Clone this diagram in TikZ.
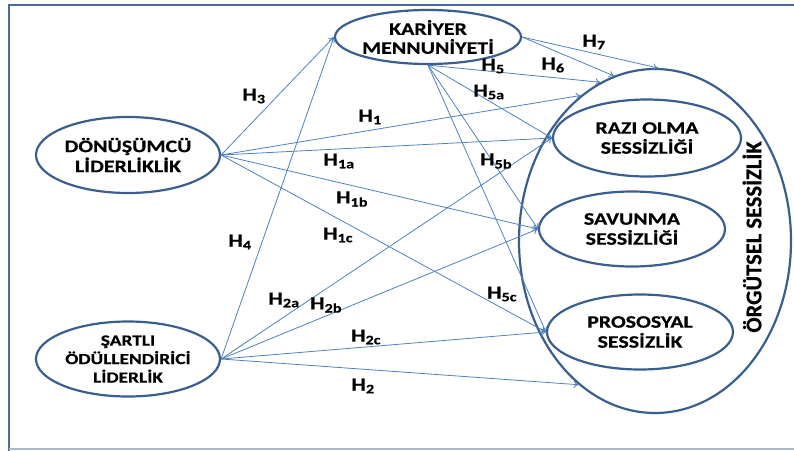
\documentclass[tikz,border=0pt]{standalone}
\usepackage{fontspec}
\setmainfont{Carlito}[FakeStretch=1.25,BoldFeatures={FakeBold=0.5}]
\newfontfamily\vfont{Carlito}[BoldFeatures={FakeBold=0.5}]
\usetikzlibrary{shapes.geometric,arrows.meta}
\definecolor{ellcol}{HTML}{3A5F8E}
\definecolor{arrcol}{HTML}{4F81BD}
\definecolor{framecol}{HTML}{4A6C9B}
\definecolor{framelight}{HTML}{A7B8CE}
\newcommand\hyp[1]{H\textsubscript{#1}}
\begin{document}
\begin{tikzpicture}[x=1pt,y=-1pt,
  ell/.style={ellipse,draw=ellcol,line width=2.2pt,inner sep=-10pt,align=center,
    font=\fontsize{17.5}{20}\selectfont\bfseries},
  arr/.style={draw=arrcol,line width=0.8pt,-{To[length=5pt,width=7pt]}},
  hl/.style={font=\fontsize{18.5}{20}\selectfont\bfseries,inner sep=0pt}]
\useasboundingbox (0,0) rectangle (794,450);
% frame
\draw[framecol,line width=2pt] (9,452) -- (9,5) -- (797,5);
\draw[framelight,line width=1.5pt] (9,449) -- (797,449);
% nodes
\node[ell,minimum width=272pt,minimum height=344pt] (os) at (655,241) {};
\node[ell,minimum width=184pt,minimum height=76pt] (dl) at (128,155) {DÖNÜŞÜMCÜ\\LİDERLİKLİK};
\node[ell,minimum width=184pt,minimum height=75pt,font=\fontsize{15.5}{18.5}\selectfont\bfseries] (sl) at (128,359) {ŞARTLI\\ÖDÜLLENDİRİCİ\\LİDERLİK};
\node[ell,minimum width=186pt,minimum height=54pt,font=\fontsize{17.5}{19}\selectfont\bfseries] (km) at (428,37) {KARİYER\\MENNUNİYETİ};
\node[ell,minimum width=188pt,minimum height=77pt] (ro) at (647,138) {RAZI OLMA\\SESSİZLİĞİ};
\node[ell,minimum width=186pt,minimum height=75pt] (sv) at (632,229) {SAVUNMA\\SESSİZLİĞİ};
\node[ell,minimum width=186pt,minimum height=75pt] (ps) at (640,332) {PROSOSYAL\\SESSİZLİK};
\node[rotate=90,inner sep=0pt,font=\vfont\fontsize{22.5}{24}\selectfont\bfseries] (ot) at (752,237) {ÖRGÜTSEL SESSİZLİK};
% connectors
\draw[arr] (dl.east) -- (km.west);
\draw[arr] (dl.east) -- (os.117.5);
\draw[arr] (dl.east) -- (ro.west);
\draw[arr] (dl.east) -- (sv.west);
\draw[arr] (dl.east) -- (ps.west);
\draw[arr] (sl.east) -- (km.west);
\draw[arr] (sl.east) -- (ro.west);
\draw[arr] (sl.east) -- (sv.west);
\draw[arr] (sl.east) -- (ps.west);
\draw[arr] (sl.east) -- (os.242.8);
\draw[arr] (km.east) -- (os.89);
\draw[arr] (km.east) -- (os.104.5);
\draw[arr] (km.south) -- (os.109.3);
\draw[arr] (km.south) -- (ro.west);
\draw[arr] (km.south) -- (sv.west);
\draw[arr] (km.south) -- (ps.west);
% labels
\node[hl] (l3) at (254,96) {\hyp{3}};
\node[hl] (l1) at (370,117) {\hyp{1}};
\node[hl] (l1a) at (339,161) {\hyp{1a}};
\node[hl] (l1b) at (352,199) {\hyp{1b}};
\node[hl] (l1c) at (338,235) {\hyp{1c}};
\node[hl] (l4) at (240,242) {\hyp{4}};
\node[hl] (l2a) at (284,300) {\hyp{2a}};
\node[hl] (l2b) at (326,305) {\hyp{2b}};
\node[hl] (l2c) at (366,337) {\hyp{2c}};
\node[hl] (l2) at (363,386) {\hyp{2}};
\node[hl] (l7) at (594,42) {\hyp{7}};
\node[hl] (l6) at (553,65) {\hyp{6}};
\node[hl] (l5) at (493,66) {\hyp{5}};
\node[hl] (l5a) at (489,92) {\hyp{5a}};
\node[hl] (l5b) at (496,161) {\hyp{5b}};
\node[hl] (l5c) at (502,294) {\hyp{5c}};
\end{tikzpicture}
\end{document}
